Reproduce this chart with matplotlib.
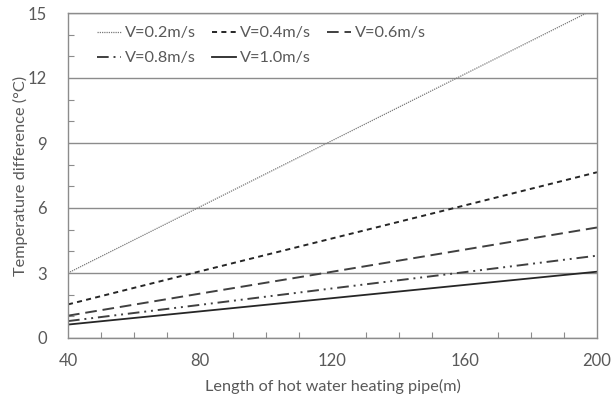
import matplotlib
matplotlib.use("Agg")
import matplotlib.pyplot as plt
from matplotlib.ticker import MultipleLocator

plt.rcParams['font.family'] = ['Lato', 'DejaVu Sans']

lengths = [40, 80, 120, 160, 200]
v02 = [3.0, 6.06, 9.12, 12.18, 15.24]
v04 = [1.55, 3.08, 4.6, 6.12, 7.65]
v06 = [1.03, 2.05, 3.06, 4.08, 5.1]
v08 = [0.78, 1.53, 2.29, 3.04, 3.8]
v10 = [0.62, 1.23, 1.84, 2.45, 3.06]
labels = ["V=0.2m/s", "V=0.4m/s", "V=0.6m/s", "V=0.8m/s", "V=1.0m/s"]
x_ticks = [40, 80, 120, 160, 200]
y_ticks = [0, 3, 6, 9, 12, 15]

gray = '#8c8c8c'
txt = '#595959'

fig = plt.figure(figsize=(6.11, 3.99), dpi=100)
ax = fig.add_axes([68/611, 1-338/399, (597-68)/611, (338-13)/399])

h02, = ax.plot(lengths, v02, color='#7a7a7a', lw=0.9, linestyle=(0, (1, 0.8)), label=labels[0])
h04, = ax.plot(lengths, v04, color='#262626', lw=1.4, linestyle=(0, (2.6, 2.2)), label=labels[1])
h06, = ax.plot(lengths, v06, color='#404040', lw=1.4, linestyle=(0, (6, 3)), label=labels[2])
h08, = ax.plot(lengths, v08, color='#404040', lw=1.4, linestyle=(0, (6, 2.5, 1, 2.5, 1, 2.5)), label=labels[3])
h10, = ax.plot(lengths, v10, color='#262626', lw=1.3, linestyle='-', label=labels[4])

ax.set_xlim(40, 200)
ax.set_ylim(0, 15)
ax.set_xticks(x_ticks)
ax.set_yticks(y_ticks)
ax.xaxis.set_minor_locator(MultipleLocator(10))
ax.yaxis.set_minor_locator(MultipleLocator(1))
ax.tick_params(axis='both', which='major', length=0, labelsize=12, colors=txt)
ax.tick_params(axis='x', which='major', pad=11)
ax.tick_params(axis='y', which='major', pad=15)
ax.tick_params(axis='both', which='minor', direction='in', length=4, width=0.8, color=gray)
ax.grid(axis='y', which='major', color=gray, lw=1.0)
ax.set_axisbelow(True)
for s in ax.spines.values():
    s.set_color(gray)
    s.set_linewidth(1.0)

ax.set_xlabel("Length of hot water heating pipe(m)", fontsize=11.7, color=txt, labelpad=7)
ax.set_ylabel("Temperature difference (°C)", fontsize=11.7, color=txt, labelpad=0)

handles = [h02, h08, h04, h10, h06]
leg = ax.legend(handles, [h.get_label() for h in handles], ncol=3, loc='upper left',
                bbox_to_anchor=(0.055, 0.96), frameon=False,
                fontsize=11.7, handlelength=1.5, handletextpad=0.2, columnspacing=1.0,
                labelspacing=0.65, borderaxespad=0, borderpad=0)
for t in leg.get_texts():
    t.set_color(txt)

fig.savefig("out.png", dpi=100)
